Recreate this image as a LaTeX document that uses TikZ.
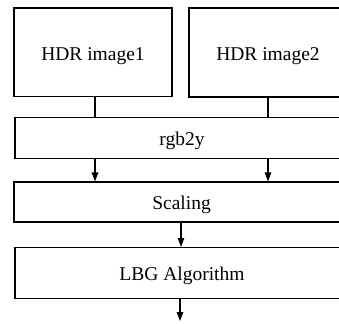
\documentclass[tikz,border=0pt]{standalone}
\usepackage{fontspec}
\setmainfont{Liberation Serif}
\usetikzlibrary{arrows.meta}
\begin{document}
\begin{tikzpicture}[x=1pt,y=-1pt,
  blk/.style={draw, line width=1.1pt, rectangle, inner sep=0pt, text height=15.6pt, text depth=0pt, font=\fontsize{19.5}{21}\selectfont},
  conn/.style={line width=1.1pt},
  arr/.style={line width=1.1pt, -{Triangle[length=9pt,width=6.5pt]}}]
\useasboundingbox (0,0) rectangle (339,323);
\clip (0,0) rectangle (339,323);
\node[blk, minimum width=158pt, minimum height=88.5pt] (img1) at (93,52.3) {HDR image1};
\node[blk, minimum width=158pt, minimum height=89pt] (img2) at (268,52.5) {HDR image2};
\node[blk, minimum width=334pt, minimum height=40.5pt] (rgb) at (182,137.8) {rgb2y};
\node[blk, minimum width=335pt, minimum height=40pt] (scal) at (181.5,202) {Scaling};
\node[blk, minimum width=334pt, minimum height=50.5pt] (lbg) at (182,272.8) {LBG Algorithm};
\coordinate (out) at (180,321);
\draw[conn] (img1.south -| 95,0) -- (rgb.north -| 95,0);
\draw[conn] (img2.south) -- (rgb.north -| img2.south);
\draw[arr] (rgb.south -| 95,0) -- (scal.north -| 95,0);
\draw[arr] (rgb.south -| img2.south) -- (scal.north -| img2.south);
\draw[arr] (scal.south -| 181,0) -- (lbg.north -| 181,0);
\draw[arr] (lbg.south -| out) -- (out);
\end{tikzpicture}
\end{document}
